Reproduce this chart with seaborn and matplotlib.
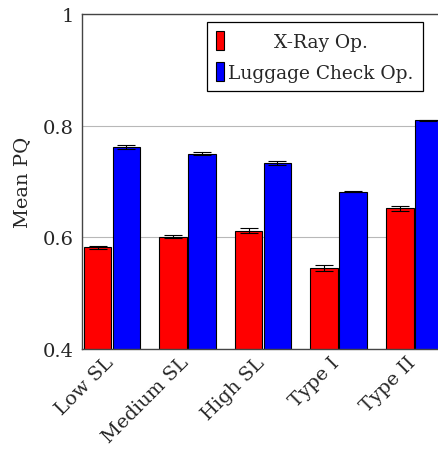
import numpy as np
import pandas as pd
import matplotlib
matplotlib.use("Agg")
import matplotlib.pyplot as plt
import matplotlib.transforms as mtransforms
import seaborn as sns

categories = ["Low SL", "Medium SL", "High SL", "Type I", "Type II"]
xray_mean = [0.582, 0.601, 0.612, 0.545, 0.652]
xray_err = [0.003, 0.003, 0.004, 0.005, 0.005]
luggage_mean = [0.762, 0.750, 0.733, 0.682, 0.810]
luggage_err = [0.004, 0.003, 0.004, 0.001, 0.001]
series = ["X-Ray Op.", "Luggage Check Op."]

df = pd.DataFrame({
    "cat": categories * 2,
    "series": [series[0]] * 5 + [series[1]] * 5,
    "mean": xray_mean + luggage_mean,
    "err": xray_err + luggage_err,
})

sns.set_style("white")
plt.rcParams["font.family"] = ["DejaVu Serif"]
plt.rcParams["font.size"] = 14

fig = plt.figure(figsize=(4.39, 4.52), dpi=100)
ax = fig.add_axes([82 / 439, 1 - 350 / 452, 1 - 82 / 439, 335 / 452])

sns.barplot(data=df, x="cat", y="mean", hue="series", order=categories,
            hue_order=series, palette=["#ff0000", "#0000ff"],
            width=0.76, gap=0.04, edgecolor="black", linewidth=0.8,
            errorbar=None, ax=ax, saturation=1)

# error bars drawn on the seaborn bar positions
for cont, name in zip(ax.containers, series):
    sub = df[df["series"] == name].set_index("cat").loc[categories]
    xs = [p.get_x() + p.get_width() / 2 for p in cont.patches]
    ax.errorbar(xs, sub["mean"], yerr=sub["err"], fmt="none",
                ecolor="black", elinewidth=0.8, capsize=6.5, capthick=0.8,
                zorder=5)

ax.set_ylim(0.4, 1.0)
ax.set_yticks([0.4, 0.6, 0.8, 1.0])
ax.set_yticklabels(["0.4", "0.6", "0.8", "1"])
ax.set_xlim(-0.397, 4.33)
ax.yaxis.grid(True, color="#b8b8b8", linewidth=0.8)
ax.set_axisbelow(True)
ax.set_xlabel("")
ax.set_ylabel("Mean PQ", labelpad=8)
ax.tick_params(axis="y", direction="in", length=4, color="#999999", pad=6)
ax.tick_params(axis="x", length=0, pad=3)
offset = mtransforms.ScaledTranslation(-8 / 100, 0, fig.dpi_scale_trans)
for lab in ax.get_xticklabels():
    lab.set_rotation(45)
    lab.set_ha("right")
    lab.set_rotation_mode("anchor")
    lab.set_transform(lab.get_transform() + offset)

for side in ["left", "top", "bottom"]:
    ax.spines[side].set_color("#444444")
    ax.spines[side].set_linewidth(1.0)
ax.spines["right"].set_visible(False)

leg = ax.legend(loc="upper right", bbox_to_anchor=(0.955, 0.976),
                borderaxespad=0, fancybox=False, edgecolor="black",
                framealpha=1, handlelength=0.4, handleheight=1.15,
                handletextpad=0.25, borderpad=0.5, labelspacing=0.6,
                fontsize=13.4)
leg.get_frame().set_linewidth(0.9)

# center the legend labels like the original
fig.canvas.draw()
renderer = fig.canvas.get_renderer()
widths = [t.get_window_extent(renderer).width for t in leg.get_texts()]
for t, w in zip(leg.get_texts(), widths):
    t.set_position(((max(widths) - w) / 2, 0))

fig.savefig("out.png", dpi=100)
